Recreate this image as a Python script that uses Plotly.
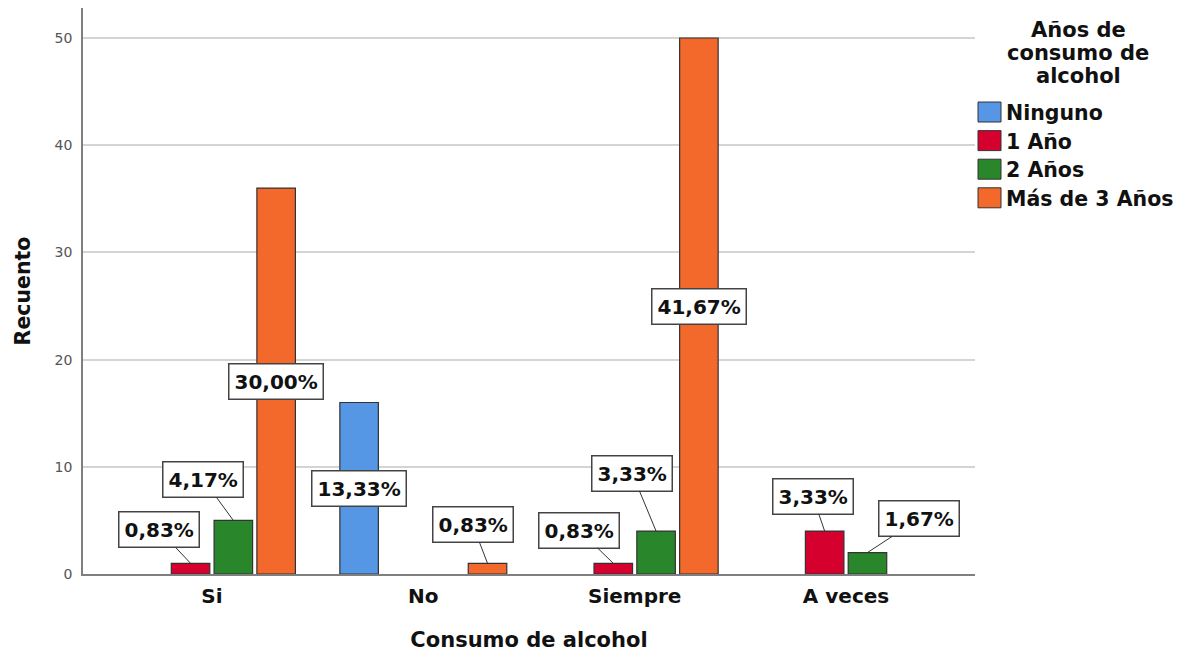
import plotly.graph_objects as go

# ---------------- data ----------------
categories = ["Si", "No", "Siempre", "A veces"]
series_names = ["Ninguno", "1 Año", "2 Años", "Más de 3 Años"]
ninguno = [None, 16, None, None]
uno_anio = [1, None, 1, 4]
dos_anios = [5, None, 4, 2]
mas_tres = [36, 1, 50, None]
series_values = [ninguno, uno_anio, dos_anios, mas_tres]

# ---------------- styles ----------------
colors = ["#5597e4", "#d6002f", "#2a862a", "#f2692b"]
FONT = "DejaVu Sans"
W, H = 1189, 653
L, R, T, B = 83, 214, 8, 79
BARGAP, GROUPGAP = 0.19, 0.1
YMAX = 52.8

# pixel offsets for labels of short bars (ax, ay); others go inside at mid height
label_offsets = {
    (0, 1): (-32, -34), (0, 2): (-30, -41),
    (1, 3): (-15, -39),
    (2, 1): (-34, -33), (2, 2): (-24, -58),
    (3, 1): (-12, -35), (3, 2): (52, -34),
}

total = sum(v for s in series_values for v in s if v is not None)

fig = go.Figure()
for name, vals, col in zip(series_names, series_values, colors):
    fig.add_trace(go.Bar(
        x=categories, y=vals, name=name,
        marker=dict(color=col, line=dict(color="#333333", width=1.2)),
        showlegend=False, hoverinfo="x+y+name",
    ))

n = len(series_names)
slot = (1 - BARGAP) / n
annotations = []
for si, vals in enumerate(series_values):
    for ci, v in enumerate(vals):
        if v is None:
            continue
        xpos = ci + (si - (n - 1) / 2) * slot
        txt = f"{v / total * 100:.2f}%".replace(".", ",")
        common = dict(
            x=xpos, xref="x", yref="y", text=txt,
            font=dict(family=FONT, size=20, color="#111111", weight="bold"),
            bgcolor="white", bordercolor="#444444", borderwidth=1.5, borderpad=5,
        )
        if (ci, si) in label_offsets:
            ax, ay = label_offsets[(ci, si)]
            annotations.append(dict(
                y=v, showarrow=True, ax=ax, ay=ay, arrowhead=0, arrowwidth=1,
                arrowcolor="#333333", standoff=0, **common))
        else:
            annotations.append(dict(y=v / 2, showarrow=False, **common))

# custom legend
pw = W - L - R
ph = H - T - B
def px2x(px):
    return (px - L) / pw
def py2y(py):
    return (H - B - py) / ph

legend_title = ["Años de", "consumo de", "alcohol"]
for i, line in enumerate(legend_title):
    annotations.append(dict(
        x=px2x(1078), y=py2y(30 + 23 * i), xref="paper", yref="paper",
        text=line, showarrow=False, xanchor="center", yanchor="middle",
        font=dict(family=FONT, size=21, color="#111111", weight="bold")))

shapes = []
for i, (name, col) in enumerate(zip(series_names, colors)):
    yc = 112 + 28.6 * i
    shapes.append(dict(
        type="rect", xref="paper", yref="paper",
        x0=px2x(978), x1=px2x(1001), y0=py2y(yc + 10), y1=py2y(yc - 10),
        fillcolor=col, line=dict(color="#333333", width=1)))
    annotations.append(dict(
        x=px2x(1004), y=py2y(yc + 1), xref="paper", yref="paper",
        text=name, showarrow=False, xanchor="left", yanchor="middle",
        font=dict(family=FONT, size=20.5, color="#111111", weight="bold")))

fig.update_layout(
    width=W, height=H,
    margin=dict(l=L, r=R, t=T, b=B, pad=0),
    paper_bgcolor="white", plot_bgcolor="white",
    barmode="group", bargap=BARGAP, bargroupgap=GROUPGAP,
    font=dict(family=FONT, color="#111111"),
    xaxis=dict(
        type="category", range=[-0.61, 3.61], automargin=False,
        showline=True, linecolor="#7f7f7f", linewidth=1.5,
        ticks="", showgrid=False, ticklabelstandoff=3,
        tickfont=dict(family=FONT, size=20, color="#111111", weight="bold"),
        title=dict(text="Consumo de alcohol", standoff=26,
                   font=dict(family=FONT, size=21, color="#111111", weight="bold")),
    ),
    yaxis=dict(
        range=[0, YMAX], tickvals=[0, 10, 20, 30, 40, 50], automargin=False,
        showline=True, linecolor="#7f7f7f", linewidth=1.5,
        showgrid=True, gridcolor="#d4d4d4", gridwidth=1.5,
        zeroline=False, ticks="",
        ticklabelstandoff=6,
        tickfont=dict(family=FONT, size=14, color="#555555"),
        title=dict(text="Recuento", standoff=18,
                   font=dict(family=FONT, size=20.5, color="#111111", weight="bold")),
    ),
    annotations=annotations,
    shapes=shapes,
)

fig.write_html("out.html")
